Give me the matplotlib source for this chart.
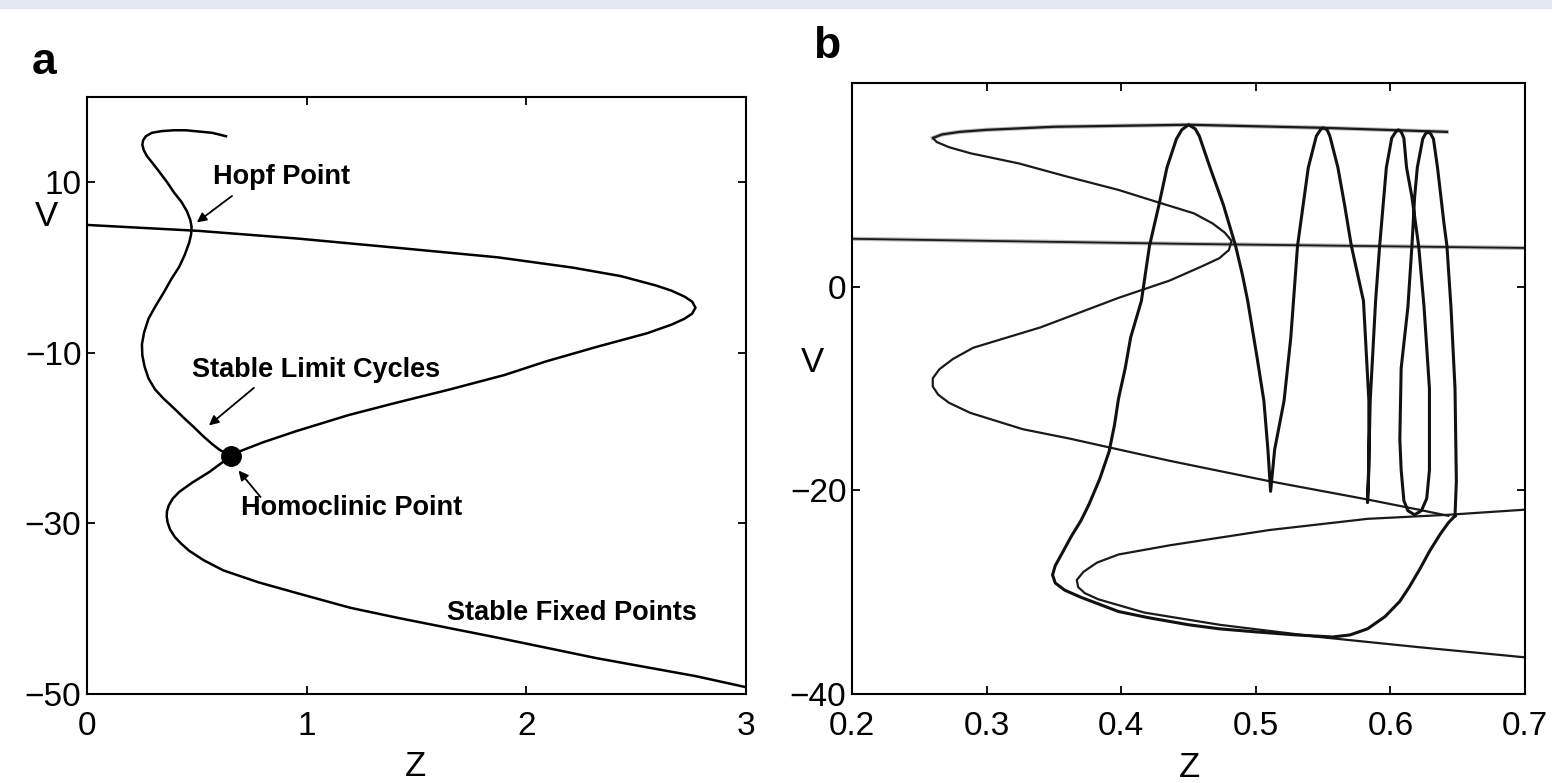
import matplotlib
matplotlib.use('Agg')
import matplotlib.pyplot as plt
from matplotlib.patches import Rectangle

plt.rcParams['font.family'] = ['Liberation Sans', 'DejaVu Sans']

# ---- panel a: fixed point curve (z, V) ----
fp_a_z = [0.0, 0.51, 0.96, 1.42, 1.87, 2.21, 2.43, 2.59, 2.66, 2.72, 2.755, 2.77, 2.755, 2.72,
          2.66, 2.55, 2.32, 2.09, 1.9, 1.65, 1.4, 1.19, 0.95, 0.80, 0.69, 0.65, 0.555, 0.48, 0.42,
          0.39, 0.372, 0.364, 0.363, 0.367, 0.378, 0.40, 0.43, 0.465, 0.53, 0.62, 0.78, 0.96, 1.2,
          1.42, 1.87, 2.32, 2.77, 3.0]
fp_a_V = [5.0, 4.3, 3.4, 2.3, 1.2, 0.0, -1.0, -2.1, -2.7, -3.4, -4.0, -4.7, -5.4, -6.0,
          -6.7, -7.7, -9.3, -11.0, -12.6, -14.3, -15.9, -17.3, -19.2, -20.5, -21.6, -22.2, -24.0, -25.2,
          -26.3, -27.1, -27.9, -28.6, -29.2, -29.9, -30.7, -31.6, -32.4, -33.2, -34.3, -35.5, -36.9,
          -38.2, -39.9, -41.1, -43.4, -45.8, -47.9, -49.2]

# ---- panel a: limit cycle branch ----
lc_a_z = [0.633, 0.57, 0.51, 0.45, 0.396, 0.34, 0.295, 0.268, 0.255, 0.252, 0.258, 0.272, 0.30,
          0.33, 0.365, 0.396, 0.43, 0.455, 0.47, 0.476, 0.474, 0.465, 0.445, 0.42, 0.385, 0.35,
          0.31, 0.28, 0.26, 0.25, 0.252, 0.262, 0.28, 0.31, 0.35, 0.40, 0.44, 0.49, 0.53, 0.57,
          0.60, 0.65]
lc_a_V = [15.4, 15.8, 15.95, 16.1, 16.1, 16.0, 15.8, 15.4, 14.9, 14.4, 13.8, 13.1, 12.2,
          11.2, 10.0, 8.8, 7.7, 6.6, 5.6, 4.8, 3.9, 2.9, 1.5, 0.1, -1.3, -2.9,
          -4.6, -6.0, -7.6, -9.0, -10.3, -11.6, -13.0, -14.3, -15.4, -16.6, -17.6, -18.8, -19.8, -20.7,
          -21.3, -22.1]

homoclinic = (0.655, -22.1)

# ---- panel b: fixed point branches ----
fp_b_top_z = [0.2, 0.45, 0.7]
fp_b_top_V = [4.7, 4.2, 3.8]
fp_b_low_z = [0.7, 0.643, 0.583, 0.510, 0.436, 0.398, 0.382, 0.372, 0.367, 0.368, 0.373, 0.383,
              0.417, 0.473, 0.547, 0.621, 0.7]
fp_b_low_V = [-21.9, -22.4, -22.8, -23.9, -25.4, -26.3, -27.1, -28.0, -28.8, -29.5, -30.1, -30.7,
              -32.0, -33.2, -34.4, -35.4, -36.4]

# ---- panel b: limit cycle envelope (max / min V) ----
env_z = [0.642, 0.55, 0.45, 0.35, 0.30, 0.28, 0.267, 0.26, 0.263, 0.272, 0.288, 0.324, 0.36,
         0.398, 0.427, 0.454, 0.468, 0.477, 0.482, 0.480, 0.473, 0.46, 0.436, 0.398, 0.340, 0.290,
         0.275, 0.265, 0.26, 0.26, 0.264, 0.272, 0.288, 0.327, 0.361, 0.436, 0.510, 0.583, 0.621,
         0.643]
env_V = [15.2, 15.6, 15.9, 15.7, 15.4, 15.2, 14.95, 14.6, 14.2, 13.7, 13.1, 12.1, 10.8,
         9.5, 8.3, 7.2, 6.2, 5.3, 4.5, 3.6, 2.8, 2.0, 0.6, -1.1, -4.0, -6.0,
         -7.1, -8.1, -9.0, -9.8, -10.6, -11.4, -12.4, -14.0, -14.9, -17.1, -19.1, -20.9, -21.9,
         -22.5]

# ---- panel b: bursting trajectory ----
traj_z = [0.648, 0.643, 0.637, 0.629, 0.622, 0.614, 0.607, 0.596, 0.583, 0.570, 0.557, 0.53,
          0.50, 0.473, 0.45, 0.42, 0.398, 0.384, 0.37, 0.358, 0.351, 0.349, 0.351, 0.356, 0.363,
          0.370, 0.376, 0.384, 0.391, 0.395, 0.398, 0.403, 0.407, 0.415, 0.421, 0.428, 0.434,
          0.441, 0.445, 0.450, 0.455, 0.458, 0.466, 0.476, 0.485, 0.490, 0.494, 0.501, 0.506,
          0.509, 0.511, 0.514, 0.521, 0.526, 0.531, 0.539, 0.545, 0.548, 0.550, 0.553, 0.555,
          0.561, 0.566, 0.571, 0.576, 0.580, 0.584, 0.584, 0.583, 0.584, 0.585, 0.589, 0.592,
          0.597, 0.601, 0.604, 0.606, 0.608, 0.610, 0.612, 0.616, 0.621, 0.625, 0.629, 0.629,
          0.627, 0.623, 0.618, 0.613, 0.610, 0.608, 0.607, 0.608, 0.613, 0.616, 0.618, 0.620,
          0.624, 0.626, 0.628, 0.630, 0.632, 0.635, 0.640, 0.642, 0.645, 0.648, 0.649, 0.648]
traj_V = [-22.5, -23.2, -24.3, -26.0, -27.7, -29.5, -30.9, -32.4, -33.6, -34.2, -34.4, -34.2,
          -33.9, -33.6, -33.2, -32.5, -31.9, -31.2, -30.5, -29.8, -29.1, -28.3, -27.4, -26.2, -24.5,
          -23.0, -21.4, -18.9, -16.2, -13.6, -11.0, -8.0, -5.0, -1.4, 4.0, 8.0, 11.7,
          14.5, 15.4, 15.9, 15.5, 14.8, 11.7, 8.0, 4.0, 1.2, -1.4, -7.0, -11.2,
          -16.0, -20.1, -16.0, -11.2, -5.0, 4.0, 11.7, 14.8, 15.4, 15.6, 15.4, 14.8,
          11.7, 8.0, 4.0, 1.0, -1.4, -11.2, -18.0, -21.2, -17.0, -11.2, -1.4, 4.0,
          11.7, 14.6, 15.2, 15.4, 15.2, 14.6, 11.7, 8.8, 4.0, -2.0, -10.0, -18.0,
          -20.8, -22.0, -22.4, -22.0, -21.0, -18.0, -15.0, -8.0, -2.0, 4.0, 8.8, 11.7,
          14.5, 15.0, 15.2, 15.0, 14.5, 11.7, 6.0, 4.0, -2.0, -10.0, -19.1, -22.5]

a_xticks = [0, 1, 2, 3]
a_yticks = [10, -10, -30, -50]
b_xticks = [0.2, 0.3, 0.4, 0.5, 0.6, 0.7]
b_yticks = [0, -20, -40]

W, H = 1552, 783
fig = plt.figure(figsize=(W / 100, H / 100), dpi=100)
fig.patches.append(Rectangle((0, 1 - 8 / H), 1, 8 / H, transform=fig.transFigure,
                             color='#e2e7f0', zorder=0))

ax1 = fig.add_axes([87 / W, 89 / H, 659 / W, 597 / H])
ax2 = fig.add_axes([852 / W, 89 / H, 673 / W, 611 / H])

for ax in (ax1, ax2):
    ax.tick_params(direction='in', top=True, right=True, length=6, width=1.3,
                   labelsize=24)
    ax.tick_params(axis='x', pad=12)
    ax.tick_params(axis='y', pad=4)
    for s in ax.spines.values():
        s.set_linewidth(1.5)

# panel a
ax1.plot(fp_a_z, fp_a_V, color='black', lw=1.8, solid_joinstyle='round')
ax1.plot(lc_a_z, lc_a_V, color='black', lw=1.8, solid_joinstyle='round')
ax1.plot(*homoclinic, 'o', color='black', ms=14)
ax1.set_xlim(0, 3)
ax1.set_ylim(-50, 20)
ax1.set_xticks(a_xticks)
ax1.set_yticks(a_yticks)

arrow = dict(arrowstyle='-|>', color='black', lw=1.3, mutation_scale=14, shrinkA=0, shrinkB=0)
txt = dict(fontsize=19.5, fontweight='bold', ha='left', va='center')
ax1.annotate('', xy=(0.50, 5.3), xytext=(0.66, 8.4), arrowprops=arrow)
ax1.text(0.573, 10.6, 'Hopf Point', **txt)
ax1.annotate('', xy=(0.555, -18.5), xytext=(0.76, -14.1), arrowprops=arrow)
ax1.text(0.48, -12.0, 'Stable Limit Cycles', **txt)
ax1.annotate('', xy=(0.69, -23.8), xytext=(0.79, -26.9), arrowprops=arrow)
ax1.text(0.70, -28.2, 'Homoclinic Point', **txt)
ax1.text(1.64, -40.5, 'Stable Fixed Points', **txt)

ax1.set_xlabel('Z', fontsize=25, va='center')
ax1.set_ylabel('V', fontsize=25, rotation=0, ha='center', va='center')
ax1.xaxis.set_label_coords(0.498, -0.122)
ax1.yaxis.set_label_coords(-0.061, 0.80)

# panel b
ax2.plot(fp_b_top_z, fp_b_top_V, color='#b8b8b8', lw=3.0)
ax2.plot(fp_b_top_z, fp_b_top_V, color='#1a1a1a', lw=1.3)
ax2.plot(fp_b_low_z, fp_b_low_V, color='#1a1a1a', lw=1.6, solid_joinstyle='round')
ax2.plot(env_z[:8], env_V[:8], color='#b8b8b8', lw=3.0, solid_joinstyle='round')
ax2.plot(env_z, env_V, color='#1a1a1a', lw=1.6, solid_joinstyle='round')
ax2.plot(traj_z, traj_V, color='#111111', lw=2.2, solid_joinstyle='round')
ax2.set_xlim(0.2, 0.7)
ax2.set_ylim(-40, 20)
ax2.set_xticks(b_xticks)
ax2.set_xticklabels([f'{t:.1f}' for t in b_xticks])
ax2.set_yticks(b_yticks)
ax2.set_xlabel('Z', fontsize=25, va='center')
ax2.set_ylabel('V', fontsize=25, rotation=0, ha='center', va='center')
ax2.xaxis.set_label_coords(0.501, -0.121)
ax2.yaxis.set_label_coords(-0.059, 0.542)

fig.text(44 / W, 1 - 63 / H, 'a', fontsize=32, fontweight='bold', ha='center', va='center')
fig.text(827 / W, 1 - 47 / H, 'b', fontsize=32, fontweight='bold', ha='center', va='center')

fig.savefig('out.png', dpi=100)
